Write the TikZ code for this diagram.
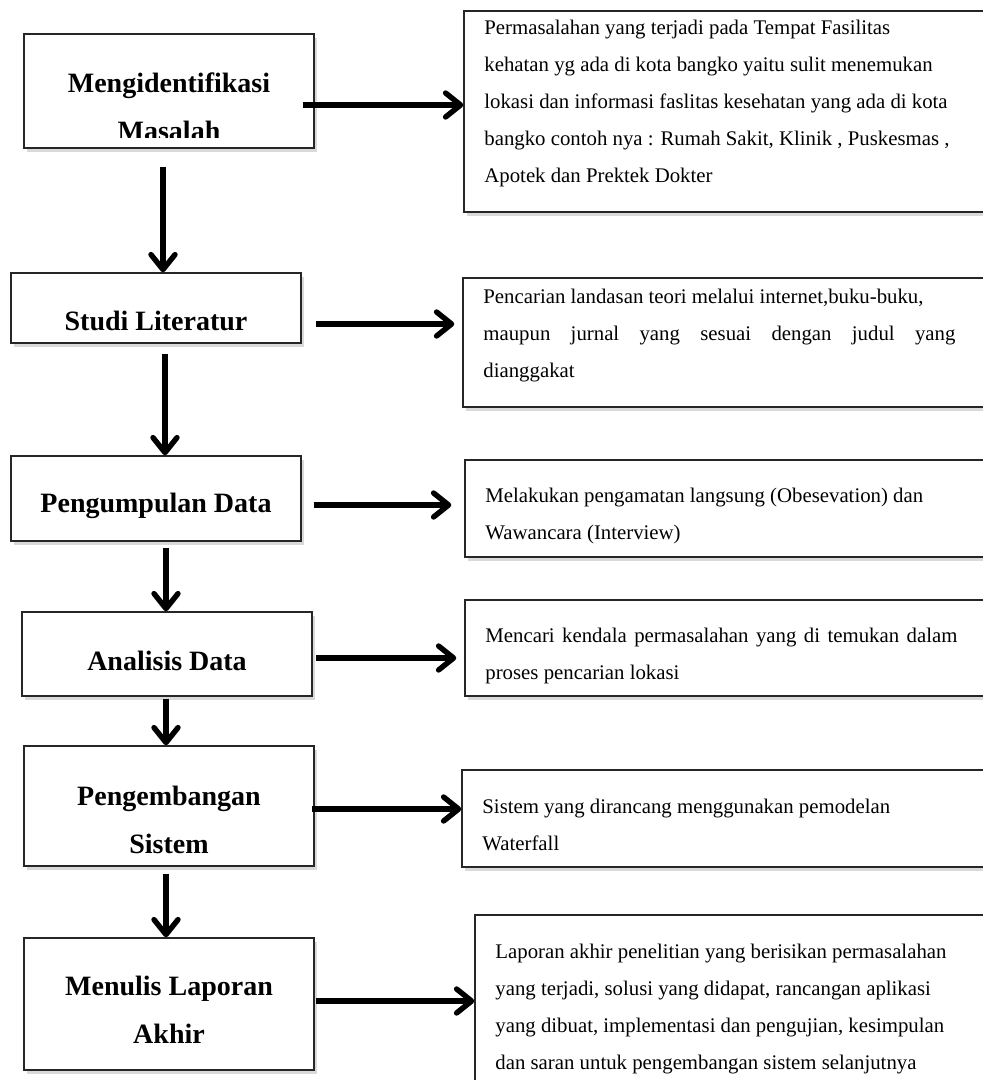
\documentclass[tikz,border=0pt]{standalone}
\usepackage{fontspec}
\setmainfont{Liberation Serif}
\usetikzlibrary{arrows.meta,shadows}

\tikzset{
  stepbox/.style={draw=black!85, line width=.7pt, fill=white,
    drop shadow={shadow xshift=1.5pt, shadow yshift=-2pt, opacity=.3}},
  steplabel/.style={anchor=north, inner sep=0pt, align=center,
    font=\bfseries\fontsize{14}{24}\selectfont},
  notelabel/.style={anchor=north west, inner sep=0pt, align=left,
    font=\fontsize{10.4}{18.5}\selectfont},
  flow/.style={line width=2.7pt, -{Straight Barb[length=7.5pt,width=12pt,round]}},
}

\begin{document}
\begin{tikzpicture}[x=.5pt,y=-.5pt]

\useasboundingbox (0,0) rectangle (982,1080) ;

% left column
\node [stepbox, minimum width=145pt, minimum height=57pt] (s1) at (169,91) {} ;
\node [stepbox, minimum width=145pt, minimum height=35pt] (s2) at (156,308) {} ;
\node [stepbox, minimum width=145pt, minimum height=42.5pt] (s3) at (156,498.5) {} ;
\node [stepbox, minimum width=145pt, minimum height=42pt] (s4) at (167,654) {} ;
\node [stepbox, minimum width=145pt, minimum height=60pt] (s5) at (169,806) {} ;
\node [stepbox, minimum width=145pt, minimum height=66pt] (s6) at (169,1004) {} ;

\begin{scope}
\clip (s1.north west) rectangle ([yshift=5.5pt]s1.south east) ;
\node [steplabel] (m1) at (169,72) {Mengidentifikasi\\Masalah} ;
\end{scope}
\node [steplabel] (m2) at (156,311) {Studi Literatur} ;
\node [steplabel] (m3) at (156,493) {Pengumpulan Data} ;
\node [steplabel] (m4) at (167,651) {Analisis Data} ;
\node [steplabel] (m5) at (169,786) {Pengembangan\\Sistem} ;
\node [steplabel] (m6) at (169,976) {Menulis Laporan\\Akhir} ;

% right column
\node [stepbox, minimum width=268pt, minimum height=100.5pt] (n1) at (732,111.5) {} ;
\node [stepbox, minimum width=268.5pt, minimum height=64.5pt] (n2) at (731.5,342.5) {} ;
\node [stepbox, minimum width=267.5pt, minimum height=48.5pt] (n3) at (732.5,508.5) {} ;
\node [stepbox, minimum width=267.5pt, minimum height=48pt] (n4) at (732.5,648) {} ;
\node [stepbox, minimum width=269pt, minimum height=48.5pt] (n5) at (731,818.5) {} ;
\node [stepbox, minimum width=262.5pt, minimum height=97.5pt] (n6) at (737.5,1012.5) {} ;

\node [notelabel] (t1) at (484,20) {Permasalahan yang terjadi pada Tempat Fasilitas\\
  kehatan yg ada di kota bangko yaitu sulit menemukan\\
  lokasi dan informasi faslitas kesehatan yang ada di kota\\
  bangko contoh nya : Rumah Sakit, Klinik , Puskesmas ,\\
  Apotek dan Prektek Dokter} ;
\node [notelabel] (t2) at (483,289) {Pencarian landasan teori melalui internet,buku-buku,\\
  \makebox[236pt][s]{maupun jurnal yang sesuai dengan judul yang}\\
  dianggakat} ;
\node [notelabel] (t3) at (485,488) {Melakukan pengamatan langsung (Obesevation) dan\\
  Wawancara (Interview)} ;
\node [notelabel] (t4) at (485,628) {\makebox[236pt][s]{Mencari kendala permasalahan yang di temukan dalam}\\
  proses pencarian lokasi} ;
\node [notelabel] (t5) at (482,799) {Sistem yang dirancang menggunakan pemodelan\\
  Waterfall} ;
\node [notelabel] (t6) at (495,944) {Laporan akhir penelitian yang berisikan permasalahan\\
  yang terjadi, solusi yang didapat, rancangan aplikasi\\
  yang dibuat, implementasi dan pengujian, kesimpulan\\
  dan saran untuk pengembangan sistem selanjutnya} ;

% arrows down
\draw [flow] ([xshift=-3pt,yshift=-9pt]s1.south) -- ([xshift=-3pt]s1.south |- s2.north) ;
\draw [flow] ([xshift=4.5pt,yshift=-5pt]s2.south) -- ([xshift=4.5pt]s2.south |- s3.north) ;
\draw [flow] ([xshift=5pt,yshift=-3pt]s3.south) -- ([xshift=5pt]s3.south |- s4.north) ;
\draw [flow] ([xshift=-.5pt,yshift=-1pt]s4.south) -- ([xshift=-.5pt]s4.south |- s5.north) ;
\draw [flow] ([xshift=-1.5pt,yshift=-3.5pt]s5.south) -- ([xshift=-1.5pt]s5.south |- s6.north) ;

% arrows right
\draw [flow] ([xshift=-6pt,yshift=-7pt]s1.east) -- ([yshift=-7pt]s1.east -| n1.west) ;
\draw [flow] ([xshift=7pt,yshift=-8pt]s2.east) -- ([xshift=-4pt,yshift=-8pt]s2.east -| n2.west) ;
\draw [flow] ([xshift=6pt,yshift=-3.25pt]s3.east) -- ([xshift=-6.5pt,yshift=-3.25pt]s3.east -| n3.west) ;
\draw [flow] ([xshift=1.5pt,yshift=-2pt]s4.east) -- ([xshift=-4pt,yshift=-2pt]s4.east -| n4.west) ;
\draw [flow] ([xshift=-1.5pt,yshift=-1.5pt]s5.east) -- ([yshift=-1.5pt]s5.east -| n5.west) ;
\draw [flow] ([xshift=.5pt,yshift=1.5pt]s6.east) -- ([yshift=1.5pt]s6.east -| n6.west) ;

\end{tikzpicture}
\end{document}
